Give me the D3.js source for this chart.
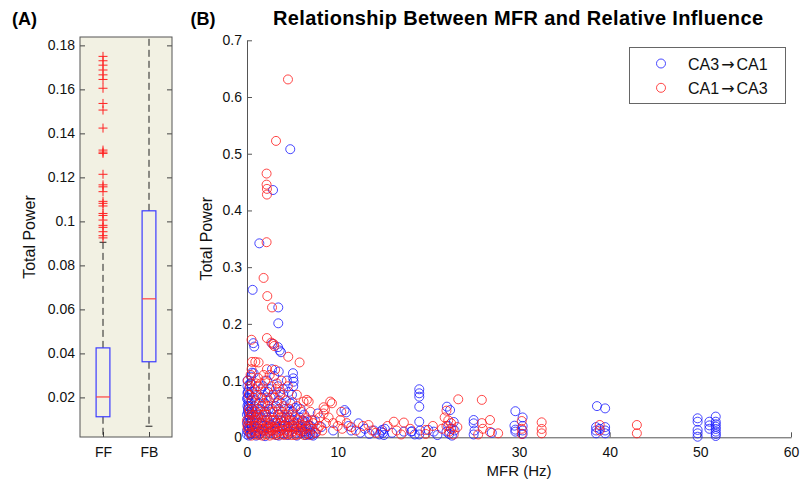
<!DOCTYPE html>
<html><head><meta charset="utf-8">
<script src="https://cdn.jsdelivr.net/npm/d3@7"></script>
<style>
body{margin:0;background:#fff;}
svg{display:block;font-family:"Liberation Sans",Arial,Helvetica,sans-serif;}
</style></head>
<body><svg id="c" width="803" height="487"></svg>
<script>
// ---------- Panel A data (boxplot) ----------
const boxCategories = ["FF", "FB"];
const boxQ1 = [0.0112, 0.0362];
const boxMedian = [0.0202, 0.0648];
const boxQ3 = [0.0425, 0.1048];
const whiskerLow = [0.0, 0.0069];
const whiskerHigh = [0.0905, 0.19];
const ffOutliers = [0.175,0.173,0.171,0.1688,0.1666,0.1645,0.1605,0.1536,0.1506,0.1424,0.1324,0.1315,0.1309,
  0.1214,0.1166,0.1157,0.1135,0.1091,0.1082,0.107,0.1036,0.1027,0.1006,0.0982,0.0973,0.0953,0.0935,0.0925];
const fbOutliers = [];
const boxYTicks = [0.02,0.04,0.06,0.08,0.1,0.12,0.14,0.16,0.18];
const boxYTickLabels = ["0.02","0.04","0.06","0.08","0.1","0.12","0.14","0.16","0.18"];

// ---------- Panel B data (scatter) [MFR Hz, Total Power] ----------
const seriesNames = [["CA3", "CA1"], ["CA1", "CA3"]];
const ca3ToCa1 = [
 [4.77,0.508],[2.87,0.436],[1.36,0.342],[0.62,0.26],[3.45,0.229],[3.45,0.201],[0.7,0.166],[0.8,0.16],
 [2.79,0.165],[3.42,0.159],[3.6,0.153],[3.75,0.15],[0.55,0.114],[2.76,0.12],[3.5,0.116],[5.07,0.113],
 [5.1,0.104],[5.14,0.098],[4.96,0.075],[0.44,0.107],[0.73,0.113],[0.36,0.095],[3.0,0.108],[5.1,0.09],
 [1.5,0.085],[2.3,0.08],[4.0,0.085],[0.2,0.085],[0.3,0.075],[0.15,0.065],[0.4,0.06],[0.1,0.05],[0.25,0.045],[0.5,0.04],
 [0.05,0.09],[0.1,0.08],[0.1,0.07],[0.15,0.06],[0.2,0.055],[0.1,0.045],[0.2,0.04],[0.3,0.035],[0.1,0.03],[0.25,0.025],
 [0.1,0.02],[0.3,0.015],[0.15,0.01],[0.35,0.005],[0.5,0.05],[0.6,0.045],[0.7,0.03],[0.8,0.02],[0.6,0.012],[0.9,0.008],
 [1.0,0.04],[1.1,0.03],[1.2,0.025],[1.3,0.015],[1.4,0.006],[1.5,0.05],[1.6,0.035],[1.8,0.02],[1.9,0.01],[2.0,0.06],
 [2.1,0.045],[2.3,0.03],[2.4,0.018],[2.5,0.008],[2.6,0.07],[2.8,0.05],[2.9,0.035],[3.0,0.025],[3.1,0.012],[3.2,0.004],
 [3.4,0.09],[3.5,0.065],[3.6,0.04],[3.8,0.03],[3.9,0.015],[4.0,0.006],[4.2,0.05],[4.3,0.035],[4.5,0.02],[4.6,0.01],
 [4.8,0.06],[5.0,0.045],[5.1,0.03],[5.2,0.015],[5.4,0.008],[5.6,0.025],[5.8,0.035],[6.0,0.018],[6.2,0.01],[6.4,0.028],
 [6.6,0.015],[6.8,0.022],[7.0,0.008],[0.05,0.1],[0.4,0.095],[1.2,0.075],[1.8,0.09],[2.2,0.1],[2.5,0.085],[0.8,0.055],
 [1.3,0.06],[4.0,0.075],[4.4,0.1],[0.2,0.003],[1.0,0.003],[2.0,0.002],[3.5,0.003],[4.5,0.004],[5.5,0.003],[6.5,0.004],
 [7.3,0.003],[5.3,0.052],[5.0,0.062],
 [0.0,0.012],[0.0,0.025],[0.0,0.04],[0.05,0.055],[0.0,0.068],[0.05,0.078],[0.0,0.005],[0.2,0.018],[0.4,0.028],[0.5,0.02],
 [0.45,0.008],[0.7,0.04],[0.9,0.035],[1.1,0.018],[1.25,0.01],[1.6,0.025],[1.7,0.012],[2.2,0.035],[2.6,0.022],[2.7,0.012],
 [3.3,0.018],[3.4,0.03],[3.7,0.02],[4.1,0.022],[4.4,0.015],[4.7,0.035],[5.0,0.022],[5.5,0.018],[5.9,0.008],[6.1,0.03],
 [6.5,0.01],[7.0,0.02],[7.2,0.005],[1.9,0.045],[2.4,0.05],[3.2,0.055],[4.6,0.045],[5.9,0.05],[6.3,0.04],[0.9,0.065],
 [1.7,0.07],[2.9,0.075],[0.6,0.08],[3.8,0.06],[4.6,0.08],
 [7.8,0.042],[7.2,0.03],[6.5,0.02],[7.0,0.012],[6.8,0.005],[7.5,0.008],[8.2,0.018],[9.5,0.012],[10.76,0.048],[10.95,0.044],
 [11.2,0.02],[11.5,0.012],[12.3,0.0247],[12.5,0.008],[13.0,0.015],[13.5,0.006],[14.0,0.012],[14.6,0.005],[14.8,0.01],
 [14.9,0.013],[15.0,0.008],[15.2,0.015],[15.1,0.004],[16.0,0.008],[17.3,0.01],[18.1,0.01],[18.2,0.0106],[18.5,0.005],
 [19.0,0.0847],[19.0,0.0776],[19.0,0.0716],[19.0,0.054],[19.0,0.0275],[19.1,0.012],[19.0,0.005],[20.0,0.013],[20.6,0.01],
 [21.0,0.004],[22.05,0.054],[22.4,0.048],[22.8,0.027],[22.2,0.02],[22.5,0.015],[22.0,0.01],[22.3,0.006],[22.6,0.003],
 [22.9,0.012],[25.0,0.0305],[25.0,0.0246],[25.1,0.012],[25.0,0.005],[27.0,0.008],[29.6,0.046],[30.4,0.035],[29.5,0.0205],
 [29.6,0.0135],[29.6,0.01],[30.4,0.02],[30.4,0.012],[30.4,0.006],[38.6,0.055],[39.5,0.051],[38.5,0.018],[38.5,0.012],
 [38.5,0.007],[39.5,0.018],[39.5,0.012],[39.5,0.007],[38.9,0.015],[49.7,0.0335],[49.7,0.0275],[49.7,0.013],[49.7,0.007],
 [49.7,0.001],[51.0,0.0275],[51.0,0.021],[51.0,0.015],[51.7,0.0365],[51.7,0.0275],[51.7,0.023],[51.7,0.0187],[51.7,0.0147],
 [51.7,0.01],[51.7,0.0059],[51.7,0.0023]
];
const ca1ToCa3 = [
 [4.52,0.631],[3.2,0.5226],[2.16,0.465],[2.16,0.4455],[2.2,0.438],[2.2,0.428],[2.16,0.344],[1.83,0.281],[2.24,0.249],
 [2.76,0.229],[0.5,0.172],[2.2,0.175],[2.68,0.167],[2.94,0.1645],[3.0,0.161],[4.55,0.142],[5.8,0.132],[0.55,0.133],
 [0.92,0.133],[1.28,0.132],[2.2,0.12],[3.1,0.119],[1.83,0.11],[3.3,0.095],[3.67,0.075],[6.6,0.066],[6.24,0.063],[6.8,0.063],
 [9.18,0.063],[9.37,0.06],[8.45,0.053],[8.6,0.049],[8.45,0.042],[10.4,0.045],[10.3,0.0305],
 [0.1,0.1],[0.3,0.09],[0.2,0.075],[0.5,0.065],[0.8,0.085],[1.0,0.075],[1.2,0.09],[1.5,0.07],[1.8,0.06],[2.0,0.08],
 [2.4,0.065],[2.7,0.09],[3.0,0.07],[3.3,0.06],[3.6,0.08],[4.0,0.055],[4.3,0.065],[4.7,0.05],[5.0,0.04],[5.5,0.055],
 [6.0,0.045],[6.5,0.035],[7.0,0.045],[7.5,0.03],[8.0,0.035],[0.2,0.05],[0.4,0.04],[0.6,0.03],[0.8,0.02],[1.0,0.045],
 [1.2,0.035],[1.4,0.025],[1.6,0.015],[1.8,0.04],[2.0,0.03],[2.2,0.02],[2.4,0.01],[2.6,0.045],[2.8,0.03],[3.0,0.018],
 [3.2,0.008],[3.4,0.04],[3.6,0.025],[3.8,0.012],[4.0,0.035],[4.2,0.02],[4.4,0.008],[4.6,0.03],[4.8,0.018],[5.0,0.01],
 [5.2,0.025],[5.4,0.015],[5.6,0.005],[5.8,0.02],[6.0,0.01],[6.2,0.028],[6.4,0.015],[6.6,0.006],[6.8,0.02],[7.2,0.015],
 [7.6,0.008],[8.0,0.02],[8.3,0.012],[8.7,0.025],[0.1,0.015],[0.3,0.008],[0.5,0.003],[0.7,0.01],[0.9,0.005],[1.1,0.012],
 [1.3,0.004],[1.5,0.008],[1.7,0.003],[1.9,0.012],[2.1,0.005],[2.3,0.015],[2.5,0.003],[2.7,0.012],[2.9,0.005],[3.1,0.015],
 [3.3,0.004],[3.5,0.01],[3.7,0.005],[3.9,0.02],[4.1,0.004],[4.3,0.012],[4.5,0.005],[4.9,0.004],[5.3,0.004],[5.7,0.012],
 [6.3,0.004],[7.0,0.004],[0.5,0.12],[1.2,0.105],[2.5,0.11],[3.8,0.1],[1.5,0.095],
 [0.0,0.03],[0.05,0.02],[0.2,0.03],[0.3,0.045],[0.4,0.02],[0.6,0.05],[0.7,0.04],[0.9,0.03],[1.0,0.02],[1.2,0.05],
 [1.4,0.04],[1.6,0.055],[1.7,0.03],[1.9,0.022],[2.1,0.04],[2.3,0.055],[2.5,0.025],[2.6,0.018],[2.9,0.045],[3.1,0.03],
 [3.3,0.025],[3.5,0.05],[3.7,0.035],[3.9,0.045],[4.1,0.028],[4.4,0.04],[4.6,0.018],[4.8,0.03],[5.1,0.02],[5.3,0.035],
 [5.6,0.03],[5.9,0.012],[6.1,0.022],[6.7,0.03],[7.3,0.025],[7.8,0.015],[0.4,0.11],[1.0,0.095],[2.0,0.1],[3.2,0.085],
 [4.5,0.09],[5.5,0.075],[0.7,0.07],[2.2,0.07],
 [9.0,0.035],[9.5,0.025],[10.0,0.02],[10.5,0.015],[11.0,0.025],[11.5,0.018],[12.0,0.012],[12.8,0.02],[13.4,0.0217],
 [13.8,0.012],[14.2,0.008],[15.5,0.02],[16.2,0.0275],[17.3,0.026],[16.5,0.012],[17.0,0.005],[18.0,0.015],[19.7,0.013],
 [19.7,0.006],[20.5,0.02],[21.5,0.015],[22.0,0.047],[21.8,0.035],[22.2,0.03],[22.5,0.025],[22.0,0.02],[22.7,0.015],
 [22.3,0.01],[22.8,0.005],[23.3,0.067],[23.2,0.018],[25.9,0.066],[25.9,0.025],[26.8,0.0305],[26.8,0.0094],[27.7,0.007],
 [26.0,0.015],[25.5,0.005],[30.3,0.0287],[30.3,0.015],[30.3,0.006],[32.5,0.0264],[32.5,0.0147],[32.5,0.007],
 [38.9,0.0217],[38.9,0.012],[43.0,0.0217],[43.0,0.007]
];
const scatterXTicks = [0,10,20,30,40,50,60];
const scatterYTicks = [0,0.1,0.2,0.3,0.4,0.5,0.6,0.7];

const svg = d3.select("#c");
const FONT = "\"Liberation Sans\",Arial,Helvetica,sans-serif";

// ================= Panel A =================
const aL = 80, aR = 172, aT = 37, aB = 437;
const xA = d3.scaleLinear().domain([0.5, 2.5]).range([aL, aR]);
const yA = d3.scaleLinear().domain([0.002, 0.1838]).range([aB, aT]);
const gA = svg.append("g");
gA.append("rect").attr("x", aL).attr("y", aT).attr("width", aR - aL).attr("height", aB - aT)
  .attr("fill", "#f2f1e3");
svg.append("defs").append("clipPath").attr("id", "clipA")
  .append("rect").attr("x", aL).attr("y", aT).attr("width", aR - aL).attr("height", aB - aT);

const yAxisA = d3.axisLeft(yA).tickValues(boxYTicks).tickFormat((d, i) => boxYTickLabels[i])
  .tickSizeInner(-5).tickSizeOuter(0).tickPadding(5);
const ya = gA.append("g").attr("transform", `translate(${aL},0)`).call(yAxisA);
ya.select(".domain").remove();
ya.selectAll("line").attr("stroke", "#444");
ya.selectAll("text").attr("font-size", 14).attr("font-family", FONT).attr("fill", "#111");
const yAxisA2 = d3.axisRight(yA).tickValues(boxYTicks).tickFormat("").tickSizeInner(-5).tickSizeOuter(0);
const ya2 = gA.append("g").attr("transform", `translate(${aR},0)`).call(yAxisA2);
ya2.select(".domain").remove();
ya2.selectAll("line").attr("stroke", "#444");
const xAxisA = d3.axisBottom(xA).tickValues([1, 2]).tickFormat((d) => boxCategories[d - 1])
  .tickSizeInner(-5).tickSizeOuter(0).tickPadding(10);
const xa = gA.append("g").attr("transform", `translate(0,${aB})`).call(xAxisA);
xa.select(".domain").remove();
xa.selectAll("line").attr("stroke", "#444");
xa.selectAll("text").attr("font-size", 14).attr("font-family", FONT).attr("fill", "#111");

const boxes = gA.append("g").attr("clip-path", "url(#clipA)");
const halfW = 0.15;
boxCategories.forEach((c, i) => {
  const cx = xA(i + 1);
  boxes.append("line").attr("x1", cx).attr("x2", cx).attr("y1", yA(boxQ3[i])).attr("y2", yA(whiskerHigh[i]))
    .attr("stroke", "#222").attr("stroke-width", 1).attr("stroke-dasharray", "7,4");
  boxes.append("line").attr("x1", cx).attr("x2", cx).attr("y1", yA(boxQ1[i])).attr("y2", yA(whiskerLow[i]))
    .attr("stroke", "#222").attr("stroke-width", 1).attr("stroke-dasharray", "7,4");
  [whiskerHigh[i], whiskerLow[i]].forEach(w => {
    boxes.append("line").attr("x1", xA(i + 1 - halfW / 2)).attr("x2", xA(i + 1 + halfW / 2))
      .attr("y1", yA(w)).attr("y2", yA(w)).attr("stroke", "#222").attr("stroke-width", 1);
  });
  boxes.append("rect").attr("x", xA(i + 1 - halfW)).attr("width", xA(i + 1 + halfW) - xA(i + 1 - halfW))
    .attr("y", yA(boxQ3[i])).attr("height", yA(boxQ1[i]) - yA(boxQ3[i]))
    .attr("fill", "none").attr("stroke", "#3b3bff").attr("stroke-width", 1.2);
  boxes.append("line").attr("x1", xA(i + 1 - halfW)).attr("x2", xA(i + 1 + halfW))
    .attr("y1", yA(boxMedian[i])).attr("y2", yA(boxMedian[i])).attr("stroke", "#ff4040").attr("stroke-width", 1.2);
  const outs = i === 0 ? ffOutliers : fbOutliers;
  boxes.selectAll(null).data(outs).enter().append("path")
    .attr("d", d => `M${cx - 4.5},${yA(d)}H${cx + 4.5}M${cx},${yA(d) - 4.5}V${yA(d) + 4.5}`)
    .attr("stroke", "#ff2020").attr("stroke-width", 1).attr("fill", "none");
});
gA.append("rect").attr("x", aL).attr("y", aT).attr("width", aR - aL).attr("height", aB - aT)
  .attr("fill", "none").attr("stroke", "#555").attr("stroke-width", 1);

svg.append("text").attr("x", 12).attr("y", 25).text("(A)")
  .attr("font-size", 18).attr("font-weight", "bold").attr("font-family", FONT);
svg.append("text").attr("transform", `translate(35,${(aT + aB) / 2}) rotate(-90)`).attr("text-anchor", "middle")
  .text("Total Power").attr("font-size", 16).attr("font-family", FONT).attr("fill", "#111");

// ================= Panel B =================
const bL = 247, bR = 791, bT = 40.3, bB = 437.3;
const xB = d3.scaleLinear().domain([0, 60]).range([bL, bR]);
const yB = d3.scaleLinear().domain([0, 0.7]).range([bB, bT]);
const gB = svg.append("g");

const yAxisB = d3.axisLeft(yB).tickValues(scatterYTicks).tickFormat(d3.format("~g"))
  .tickSizeInner(-5).tickSizeOuter(0).tickPadding(5);
const yb = gB.append("g").attr("transform", `translate(${bL},0)`).call(yAxisB);
const xAxisB = d3.axisBottom(xB).tickValues(scatterXTicks).tickFormat(d3.format("d"))
  .tickSizeInner(-5).tickSizeOuter(0).tickPadding(10);
const xb = gB.append("g").attr("transform", `translate(0,${bB})`).call(xAxisB);
[yb, xb].forEach(g => {
  g.select(".domain").attr("stroke", "#555");
  g.selectAll("line").attr("stroke", "#555");
  g.selectAll("text").attr("font-size", 14).attr("font-family", FONT).attr("fill", "#111");
});

const pts = gB.append("g");
pts.selectAll("circle.b").data(ca3ToCa1).enter().append("circle").attr("class", "b")
  .attr("cx", d => xB(d[0])).attr("cy", d => yB(d[1])).attr("r", 4.5)
  .attr("fill", "none").attr("stroke", "#1a1aff").attr("stroke-opacity", 0.8).attr("stroke-width", 1);
pts.selectAll("circle.r").data(ca1ToCa3).enter().append("circle").attr("class", "r")
  .attr("cx", d => xB(d[0])).attr("cy", d => yB(d[1])).attr("r", 4.5)
  .attr("fill", "none").attr("stroke", "#ff1a1a").attr("stroke-opacity", 0.8).attr("stroke-width", 1);

svg.append("text").attr("x", 203).attr("y", 25).attr("text-anchor", "middle").text("(B)")
  .attr("font-size", 18).attr("font-weight", "bold").attr("font-family", FONT);
svg.append("text").attr("x", 518).attr("y", 25).attr("text-anchor", "middle")
  .text("Relationship Between MFR and Relative Influence")
  .attr("font-size", 20).attr("font-weight", "bold").attr("font-family", FONT)
  .attr("textLength", 490).attr("lengthAdjust", "spacing");
svg.append("text").attr("x", (bL + bR) / 2).attr("y", 476).attr("text-anchor", "middle")
  .text("MFR (Hz)").attr("font-size", 15).attr("font-family", FONT).attr("fill", "#111");
svg.append("text").attr("transform", `translate(212,${(bT + bB) / 2}) rotate(-90)`).attr("text-anchor", "middle")
  .text("Total Power").attr("font-size", 16).attr("font-family", FONT).attr("fill", "#111");

// legend
const lg = svg.append("g");
lg.append("rect").attr("x", 629.5).attr("y", 47.5).attr("width", 156).attr("height", 56)
  .attr("fill", "#fff").attr("stroke", "#666").attr("stroke-width", 1);
const legendColors = ["#1a1aff", "#ff1a1a"];
seriesNames.forEach((n, i) => {
  const yy = 63.5 + i * 24.3;
  lg.append("circle").attr("cx", 661).attr("cy", yy).attr("r", 4.5).attr("fill", "none")
    .attr("stroke", legendColors[i]).attr("stroke-opacity", 0.8);
  const t = lg.append("text").attr("x", 688).attr("y", yy + 6)
    .attr("font-size", 16).attr("font-family", FONT).attr("fill", "#111");
  t.append("tspan").text(n[0]);
  t.append("tspan").attr("dx", 2).attr("font-family", "\"DejaVu Sans\"").attr("font-size", 16).text("\u2192");
  t.append("tspan").attr("dx", 2).text(n[1]);
});
</script></body></html>
